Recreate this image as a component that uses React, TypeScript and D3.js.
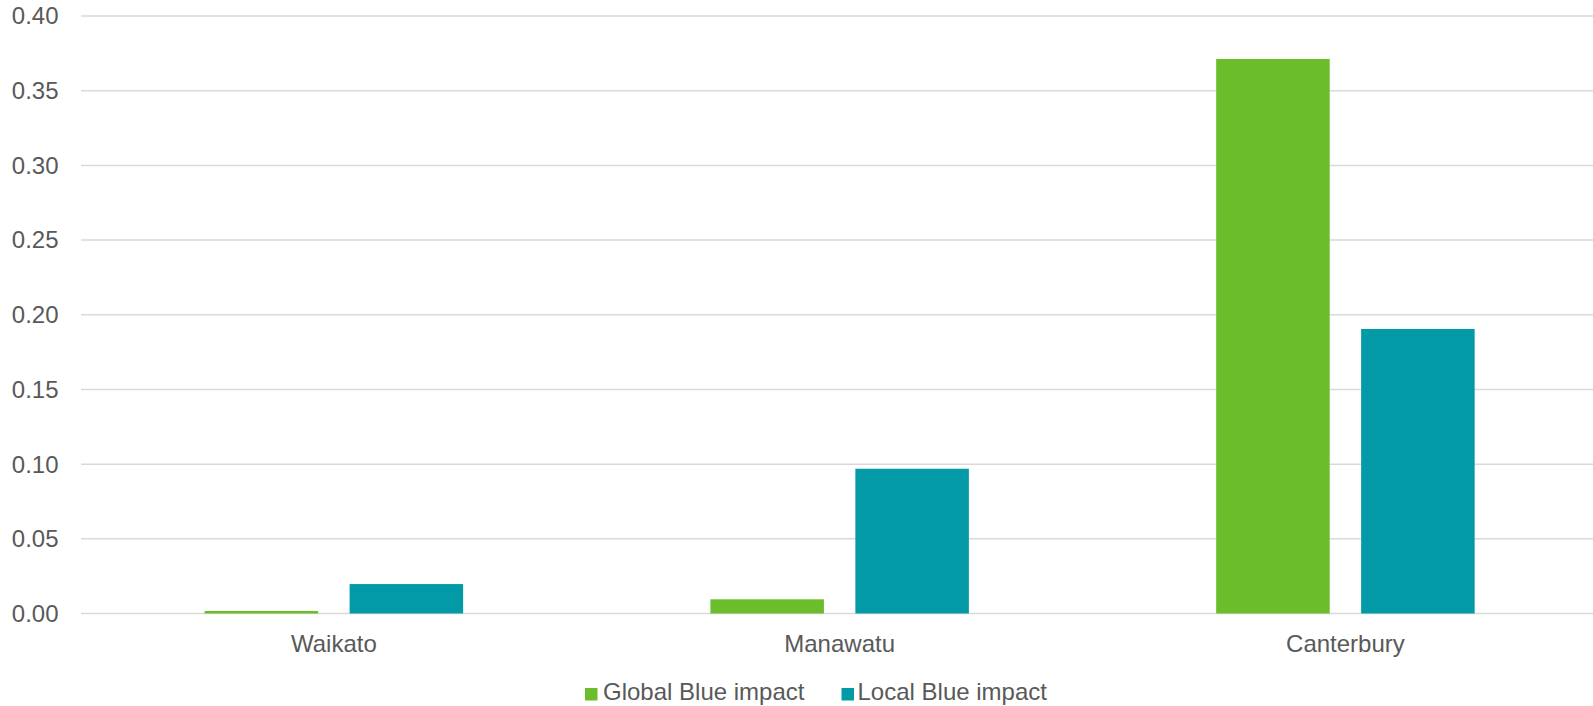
import React from "react";
import * as d3 from "d3";

const categories = ["Waikato", "Manawatu", "Canterbury"];
const seriesNames = ["Global Blue impact", "Local Blue impact"];
const globalBlue = [0.0017, 0.0095, 0.3712];
const localBlue = [0.0197, 0.0969, 0.1905];
const yTicks = [0, 0.05, 0.1, 0.15, 0.2, 0.25, 0.3, 0.35, 0.4];
const seriesColors = ["#6BBD2B", "#019AA6"];

const W = 1593;
const H = 706;
const FONT = "'Liberation Sans', Arial, sans-serif";
const TEXT = "#595959";
const FS = 24;

export default function App() {
  const x = d3.scaleBand<string>().domain(categories).range([81, 1598.3]);
  const inner = d3
    .scaleBand<string>()
    .domain(seriesNames)
    .range([0, x.bandwidth()])
    .paddingInner(0.217)
    .paddingOuter(0.853);
  const y = d3.scaleLinear().domain([0, 0.4]).range([613.5, 16]);
  const values = [globalBlue, localBlue];

  const legendItems = [
    { name: seriesNames[0], sq: 585, tx: 603 },
    { name: seriesNames[1], sq: 841.5, tx: 857.5 },
  ];

  return (
    <svg
      width={W}
      height={H}
      style={{ position: "absolute", left: 0, top: 0, background: "#fff" }}
      fontFamily={FONT}
    >
      <rect width={W} height={H} fill="#fff" />
      {yTicks.map((t) => (
        <g key={t}>
          <line x1={81} x2={W} y1={y(t)} y2={y(t)} stroke="#D9D9D9" strokeWidth={1.5} />
          <text
            x={58.5}
            y={y(t)}
            dy="0.35em"
            textAnchor="end"
            fontSize={FS}
            fill={TEXT}
          >
            {t.toFixed(2)}
          </text>
        </g>
      ))}
      {categories.map((c, i) => (
        <g key={c} transform={`translate(${x(c)},0)`}>
          {seriesNames.map((s, j) => (
            <rect
              key={s}
              x={inner(s)}
              width={inner.bandwidth()}
              y={y(values[j][i])}
              height={y(0) - y(values[j][i])}
              fill={seriesColors[j]}
            />
          ))}
          <text
            x={x.bandwidth() / 2}
            y={651.5}
            textAnchor="middle"
            fontSize={FS}
            fill={TEXT}
          >
            {c}
          </text>
        </g>
      ))}
      {legendItems.map((l, j) => (
        <g key={l.name}>
          <rect x={l.sq} y={688} width={12.5} height={12.5} fill={seriesColors[j]} />
          <text x={l.tx} y={700} fontSize={FS} fill={TEXT}>
            {l.name}
          </text>
        </g>
      ))}
    </svg>
  );
}
